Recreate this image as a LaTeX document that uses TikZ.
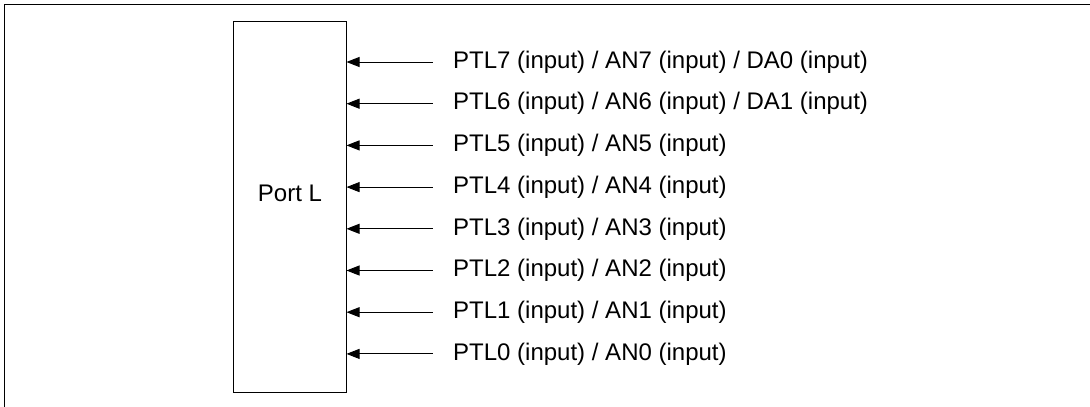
\documentclass[tikz,border=0pt]{standalone}
\usepackage{fontspec}
\setmainfont{Liberation Sans}
\usetikzlibrary{positioning,arrows.meta,calc}

\begin{document}
\begin{tikzpicture}[
    x=1pt, y=-1pt,
    every node/.style={font=\fontsize{24}{28}\selectfont},
    portbox/.style={draw, line width=1pt, minimum width=113pt, minimum height=371pt, inner sep=0pt},
    pinlabel/.style={anchor=west, inner sep=0pt},
    arr/.style={{Triangle[length=13pt,width=10pt]}-, line width=1pt}
  ]
    \useasboundingbox (0,0) rectangle (1090,407);
    % frame (left and top edge only)
    \draw[line width=1.3pt] (4.5,407) -- (4.5,4.5) -- (1090,4.5);

    \node[portbox] (port) at (289.5,206.5) {};
    \node (portname) at (290,193) {Port L};

    % pins, PTL7 at the top
    \foreach \i/\extra in {7/{ / DA0 (input)}, 6/{ / DA1 (input)}, 5/{}, 4/{}, 3/{}, 2/{}, 1/{}, 0/{}} {
      \node[pinlabel] (pin\i) at (453,{62+(7-\i)*41.7}) {PTL\i{} (input) / AN\i{} (input)\extra};
      \draw[arr] (pin\i -| port.east) -- ([xshift=-20pt]pin\i.west);
    }
  \end{tikzpicture}
\end{document}
